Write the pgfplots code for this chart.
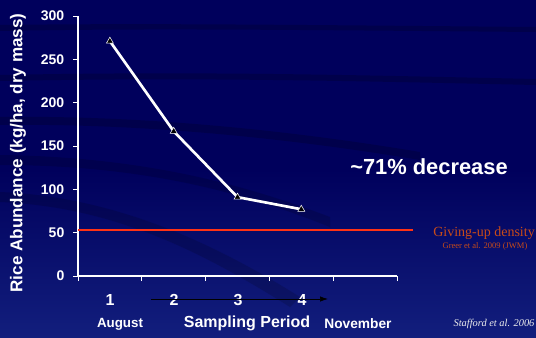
\documentclass[border=0pt]{standalone}
\usepackage{pgfplots}
\pgfplotsset{compat=1.18}
\usepackage{fontspec}
\setmainfont{Liberation Sans}
\newfontfamily\serif{Liberation Serif}
\definecolor{bgtop}{RGB}{0,0,92}
\definecolor{bgbot}{RGB}{18,30,125}
\definecolor{gud}{RGB}{200,75,25}
\definecolor{redline}{RGB}{255,50,20}
\usetikzlibrary{arrows.meta}
\begin{document}
\begin{tikzpicture}[x=0.75pt,y=0.75pt]
\useasboundingbox (0,0) rectangle (536,337);
\shade[top color=bgtop, bottom color=bgbot, middle color=bgtop] (0,0) rectangle (536,337);
% dark swooshes
\fill[black, opacity=0.18] (0,312) .. controls (150,314) and (300,312) .. (536,310) -- (536,305) .. controls (300,307) and (150,309) .. (0,306) -- cycle;
\fill[black, opacity=0.18] (0,262) .. controls (200,266) and (350,262) .. (536,258) -- (536,252) .. controls (350,256) and (200,260) .. (0,256) -- cycle;
\fill[black, opacity=0.18] (0,220) .. controls (150,222) and (300,205) .. (420,185) -- (420,177) .. controls (300,197) and (150,214) .. (0,212) -- cycle;
\fill[black, opacity=0.15] (0,182) .. controls (150,180) and (250,150) .. (330,120) -- (330,110) .. controls (250,142) and (150,172) .. (0,172) -- cycle;
\fill[black, opacity=0.15] (0,145) .. controls (120,140) and (220,90) .. (300,40) -- (290,30) .. controls (210,80) and (120,130) .. (0,135) -- cycle;
\begin{axis}[
  at={(58.5pt,45.75pt)}, anchor=origin,
  scale only axis, width=239.25pt, height=195pt,
  xmin=0, xmax=5, ymin=0, ymax=300,
  axis x line*=bottom, axis y line*=left,
  axis line style={white, line width=0.8pt, -},
  tick style={white, line width=0.6pt},
  tick align=outside, major tick length=3.75pt,
  xtick={0,1,2,3,4,5}, xticklabels={},
  ytick={0,50,100,150,200,250,300},
  /pgf/number format/assume math mode=true,
  yticklabel style={white, font=\fontsize{10.5}{10}\selectfont\bfseries, xshift=-3pt},
  clip=false,
]
\addplot[redline, line width=1.5pt] coordinates {(0,53) (5.25,53)};
\addplot[white, line width=2pt, mark=triangle*, mark size=3pt,
  mark options={fill=black, draw=white, line width=0.4pt}] coordinates {
(0.5,271) (1.5,167) (2.5,91) (3.5,77)};
\end{axis}
% y label
\node[white, rotate=90, font=\fontsize{12.8}{13}\selectfont\bfseries] at (18,184) {Rice Abundance (kg/ha, dry mass)};
% x tick labels
\foreach \i/\x in {1/110,2/174,3/238,4/302}
  \node[white, font=\fontsize{12}{12}\selectfont\bfseries] at (\x,37) {\i};
\draw[black, line width=0.5pt, -{Latex[length=6,width=4]}] (151,38) -- (328,38);
\node[white, font=\fontsize{10}{10}\selectfont\bfseries] at (120,13) {August};
\node[white, font=\fontsize{10.3}{10}\selectfont\bfseries] at (358,13) {November};
\node[white, font=\fontsize{12}{12}\selectfont\bfseries] at (247,14) {Sampling Period};
\node[white, font=\fontsize{16.4}{17}\selectfont\bfseries] at (429,170) {\textasciitilde71\% decrease};
\node[gud, font=\serif\fontsize{10.5}{11}\selectfont] at (484,104) {Giving-up density};
\node[gud, font=\serif\fontsize{6.4}{7}\selectfont] at (485,91) {Greer et al. 2009 (JWM)};
\node[white!85!gray, font=\serif\fontsize{7.8}{8}\selectfont\itshape, anchor=east, inner sep=1pt] at (536,13) {Stafford et al. 2006};
\end{tikzpicture}
\end{document}
